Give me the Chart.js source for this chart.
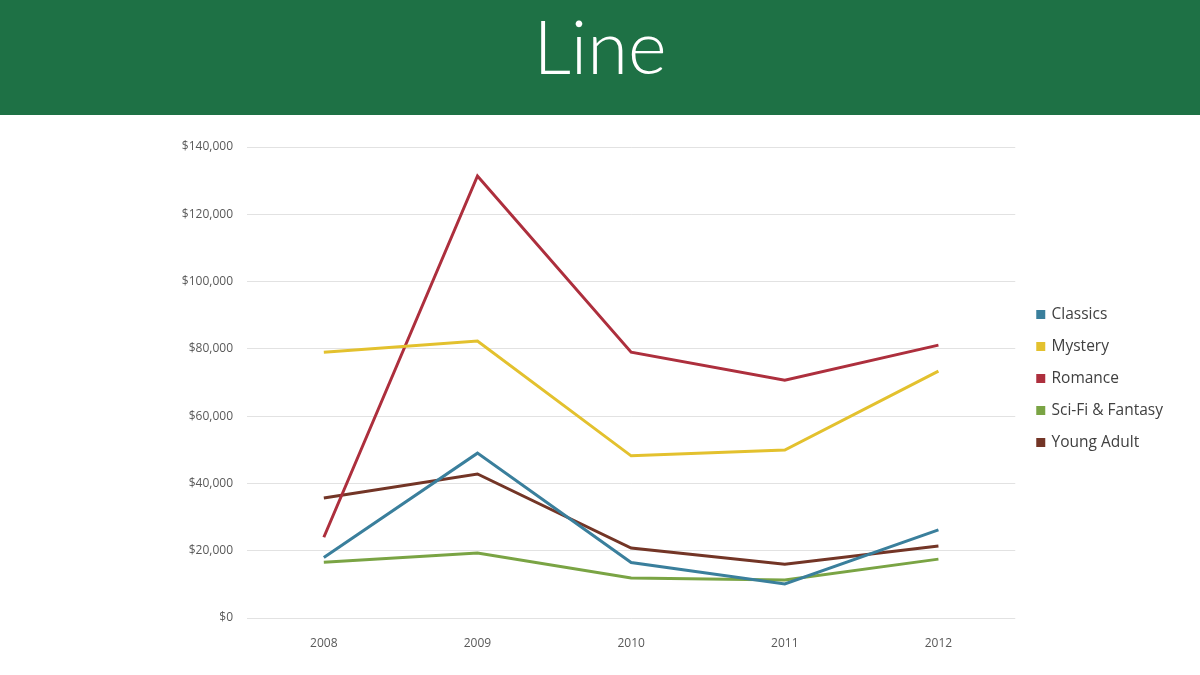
<!DOCTYPE html>
<html>
<head>
<meta charset="utf-8">
<script src="https://cdn.jsdelivr.net/npm/chart.js@4"></script>
<style>
  html, body { margin:0; padding:0; background:#ffffff; width:1200px; height:675px; overflow:hidden; }
  #header { position:absolute; left:0; top:0; width:1200px; height:115px; background:#1e7145; }
  #title { position:absolute; left:0; top:0; width:1200px; height:115px; line-height:92px; text-align:center;
           color:#ffffff; font-family:Lato, "Open Sans", sans-serif; font-weight:300; font-size:74px; }
  #wrap { position:absolute; left:0; top:115px; width:1200px; height:560px; }
</style>
</head>
<body>
<div id="header"></div>
<div id="title">Line</div>
<div id="wrap"><canvas id="c" width="1200" height="560"></canvas></div>
<script>
const years = ["2008", "2009", "2010", "2011", "2012"];
const classics   = [18000, 49000, 16500, 10100, 26200];
const mystery    = [79000, 82300, 48200, 49900, 73400];
const romance    = [24000, 131400, 79000, 70700, 81100];
const scifi      = [16600, 19300, 11900, 11300, 17500];
const youngAdult = [35700, 42800, 20800, 16000, 21400];
const seriesNames = ["Classics", "Mystery", "Romance", "Sci-Fi & Fantasy", "Young Adult"];
const seriesColors = ["#3a7f9c", "#e3c12e", "#ad2f3d", "#7aa444", "#733526"];
const seriesValues = [classics, mystery, romance, scifi, youngAdult];

const datasets = seriesNames.map((n, i) => ({
  label: n,
  data: seriesValues[i],
  borderColor: seriesColors[i],
  backgroundColor: seriesColors[i],
  borderWidth: 3,
  pointRadius: 0,
  tension: 0,
  fill: false
}));

const legendShift = {
  id: 'legendShift',
  afterLayout(chart) {
    if (chart.legend) {
      chart.legend.left += 6; chart.legend.right += 6;
      chart.legend.top -= 4; chart.legend.bottom -= 4;
    }
  }
};

new Chart(document.getElementById('c'), {
  type: 'line',
  data: { labels: years, datasets: datasets },
  plugins: [legendShift],
  options: {
    responsive: false,
    animation: false,
    layout: { padding: { left: 165, top: 32, right: 33, bottom: 27 } },
    plugins: {
      tooltip: { enabled: false },
      legend: {
        position: 'right',
        fullSize: false,
        labels: {
          boxWidth: 6, boxHeight: 6, padding: 16.5,
          color: '#404040',
          font: { family: '"Open Sans", sans-serif', size: 15.5 }
        }
      }
    },
    scales: {
      x: {
        offset: true,
        grid: { display: false },
        border: { display: false },
        ticks: { color: '#595959', padding: 10, font: { family: '"Open Sans", sans-serif', size: 12 } },
        afterFit: (s) => { s.height = 30; }
      },
      y: {
        min: 0, max: 140000,
        ticks: {
          stepSize: 20000, color: '#595959', padding: 14,
          font: { family: '"Open Sans", sans-serif', size: 12 },
          callback: (v) => '$' + v.toLocaleString('en-US')
        },
        grid: { color: '#e2e2e2', drawTicks: false, lineWidth: 1 },
        border: { display: false },
        afterFit: (s) => { s.width = 82; }
      }
    }
  }
});
</script>
</body>
</html>
